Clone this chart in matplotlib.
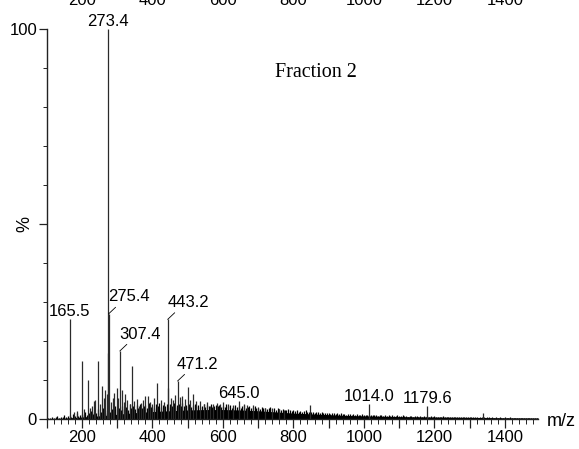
import numpy as np
import matplotlib.pyplot as plt
from matplotlib.ticker import MultipleLocator, FixedLocator, FuncFormatter
from matplotlib.transforms import blended_transform_factory

plt.rcParams['font.family'] = ['Liberation Sans', 'DejaVu Sans']

# distinct peaks: m/z and relative intensity (%)
peak_mz = [165.5, 177, 185, 199, 207, 216, 223, 229, 234, 238, 245, 252, 258, 262,
           266, 270, 273.4, 274.4, 275.4, 281, 288, 291, 299, 303, 307.4, 314, 318,
           323, 329, 336, 341, 349, 355, 361, 368, 373, 380, 386, 393, 400, 405,
           414, 425, 433, 443.2, 444.2, 452, 457, 463, 471.2, 478, 484, 492, 501,
           508, 516, 523, 536, 545, 555, 562, 572, 583, 593, 601, 615, 628, 645.0,
           660, 668, 684, 700, 720, 740, 760, 773, 847, 1014.0, 1179.6, 1339]
peak_int = [25.8, 2.0, 2.2, 15.0, 2.6, 10.0, 3.0, 3.4, 4.8, 5.0, 15.0, 4.0, 8.6, 5.5,
            7.4, 6.5, 100.0, 17.0, 27.0, 4.5, 5.5, 6.8, 8.0, 5.5, 17.5, 7.5, 4.5,
            6.4, 5.0, 4.0, 13.6, 4.6, 5.2, 3.4, 4.2, 5.0, 6.0, 6.0, 4.5, 4.0, 5.4,
            9.3, 5.0, 4.5, 25.6, 8.0, 5.5, 5.0, 6.2, 9.8, 5.8, 6.0, 5.2, 8.2,
            5.0, 6.4, 4.6, 4.8, 4.0, 4.4, 3.5, 4.0, 4.2, 3.8, 4.5, 4.0, 3.6, 4.7,
            3.8, 3.6, 3.6, 3.2, 3.0, 2.9, 2.6, 2.3, 3.7, 3.8, 3.4, 1.7]

label_mz = [165.5, 273.4, 275.4, 307.4, 443.2, 471.2, 645.0, 1014.0, 1179.6]
label_txt = ['165.5', '273.4', '275.4', '307.4', '443.2', '471.2', '645.0', '1014.0', '1179.6']
leader_mz = [275.4, 307.4, 443.2, 471.2]

# unresolved hump under the spectrum
floor_mz = [100, 150, 200, 250, 300, 350, 400, 450, 500, 550, 600, 650, 700, 750,
            800, 850, 900, 950, 1000, 1100, 1200, 1300, 1400, 1495]
floor_int = [0.2, 0.3, 0.6, 0.9, 1.3, 1.7, 2.0, 2.2, 2.4, 2.5, 2.5, 2.4, 2.2, 1.9,
             1.6, 1.4, 1.2, 1.0, 0.9, 0.7, 0.6, 0.5, 0.4, 0.35]

# small noise peaks, one every 5 m/z from 100
grass_int = [
    0.3, 0.4, 0.3, 0.6, 0.4, 0.5, 0.9, 0.4, 0.7, 0.5, 1.2, 0.6, 0.8, 1.0, 0.7, 1.3, 0.8, 1.6, 0.9, 1.1,
    1.4, 1.0, 1.8, 1.2, 1.6, 2.2, 1.3, 1.9, 1.5, 2.6, 1.7, 2.0, 2.9, 1.6, 2.4, 3.1, 2.0, 2.7, 2.2, 3.3,
    2.6, 3.0, 2.3, 3.5, 2.7, 3.2, 2.5, 3.8, 2.9, 3.4, 2.6, 3.6, 3.0, 3.9, 2.8, 3.3, 3.7, 3.0, 4.1, 3.2,
    3.5, 3.0, 3.9, 3.3, 4.2, 3.1, 3.7, 3.4, 4.0, 3.2, 3.8, 3.5, 4.3, 3.1, 3.6, 3.9, 3.3, 4.1, 3.5, 3.7,
    3.4, 3.9, 3.2, 3.6, 4.0, 3.3, 3.7, 3.1, 3.5, 3.8, 3.2, 3.6, 3.4, 3.9, 3.1, 3.5, 3.7, 3.3, 3.6, 3.2,
    3.5, 3.1, 3.8, 3.3, 3.6, 3.0, 3.4, 3.7, 3.2, 3.5, 3.0, 3.3, 3.6, 2.9, 3.2, 3.4, 2.8, 3.1, 3.3, 2.9,
    3.0, 2.7, 3.2, 2.8, 3.0, 2.6, 2.9, 3.1, 2.6, 2.8, 2.5, 2.9, 2.6, 2.4, 2.7, 2.5, 2.3, 2.6, 2.4, 2.2,
    2.4, 2.1, 2.3, 2.0, 2.2, 1.9, 2.1, 2.3, 1.9, 2.0, 1.8, 2.0, 1.7, 1.9, 1.8, 1.6, 1.8, 1.7, 1.5, 1.7,
    1.6, 1.4, 1.6, 1.5, 1.3, 1.5, 1.4, 1.6, 1.3, 1.4, 1.2, 1.4, 1.3, 1.2, 1.4, 1.1, 1.3, 1.2, 1.1, 1.3,
    1.2, 1.0, 1.2, 1.1, 1.0, 1.2, 1.0, 1.1, 0.9, 1.1, 1.0, 0.9, 1.1, 0.9, 1.0, 0.8, 1.0, 0.9, 0.8, 1.0,
    0.9, 0.8, 1.0, 0.8, 0.9, 0.7, 0.9, 0.8, 0.7, 0.9, 0.8, 0.7, 0.8, 0.7, 0.9, 0.7, 0.8, 0.6, 0.8, 0.7,
    0.8, 0.6, 0.7, 0.7, 0.6, 0.8, 0.6, 0.7, 0.6, 0.7, 0.5, 0.7, 0.6, 0.5, 0.7, 0.6, 0.5, 0.6, 0.5, 0.6,
    0.6, 0.5, 0.6, 0.5, 0.6, 0.4, 0.6, 0.5, 0.5, 0.4, 0.6, 0.5, 0.4, 0.5, 0.4, 0.5, 0.4, 0.5, 0.4, 0.4,
    0.5, 0.4, 0.4, 0.5, 0.4, 0.4, 0.3, 0.4, 0.4, 0.3, 0.4, 0.3, 0.4, 0.3, 0.3, 0.4, 0.3, 0.3, 0.3, 0.3,
]
grass_mz = [100 + 5 * i for i in range(len(grass_int))]

xtick_labels = [200, 400, 600, 800, 1000, 1200, 1400]

fig = plt.figure(figsize=(5.79, 4.49), dpi=100)
ax = fig.add_axes([0.0807, 0.0661, 0.849, 0.8693])

ax.fill_between(floor_mz, 0, floor_int, color='black', lw=0)
ax.vlines(grass_mz, 0, grass_int, color='black', lw=0.9)
ax.vlines(peak_mz, 0, peak_int, color='#2a2a2a', lw=0.9)

ax.set_xlim(100, 1495)
ax.set_ylim(0, 100)

for s in ['top', 'right']:
    ax.spines[s].set_visible(False)
for s in ['left', 'bottom']:
    ax.spines[s].set_color('#222222')
    ax.spines[s].set_linewidth(1.0)

ax.xaxis.set_major_locator(MultipleLocator(100))
ax.xaxis.set_minor_locator(MultipleLocator(20))
ax.xaxis.set_major_formatter(FuncFormatter(lambda v, p: str(int(v)) if int(v) in xtick_labels else ''))
ax.yaxis.set_major_locator(FixedLocator([0, 50, 100]))
ax.yaxis.set_minor_locator(MultipleLocator(10))
ax.yaxis.set_major_formatter(FuncFormatter(lambda v, p: '' if v == 50 else str(int(v))))

ax.tick_params(axis='x', which='major', length=6.5, width=0.9, pad=1, labelsize=12, color='#222222')
ax.tick_params(axis='x', which='minor', length=3.5, width=0.7, color='#222222')
ax.tick_params(axis='y', which='major', length=6, width=0.9, pad=1, labelsize=12, color='#222222')
ax.tick_params(axis='y', which='minor', length=3, width=0.7, color='#222222')

# top copy of the m/z scale, cut off by the figure edge as in the original
trans = blended_transform_factory(ax.transData, fig.transFigure)
for v in xtick_labels:
    ax.text(v, 1 - 5 / 449, str(v), transform=trans, ha='center', va='baseline',
            fontsize=12, clip_on=False)

lookup = dict(zip(peak_mz, peak_int))
for mz, txt in zip(label_mz, label_txt):
    h = lookup[mz]
    if mz in leader_mz:
        ax.annotate(txt, xy=(mz, h), xytext=(-0.3, 6.8), textcoords='offset points',
                    ha='left', va='bottom', fontsize=12,
                    arrowprops=dict(arrowstyle='-', color='black', lw=0.6,
                                    shrinkA=0, shrinkB=0, relpos=(0.25, 0)))
    else:
        ax.annotate(txt, xy=(mz, h), xytext=(0, 0), textcoords='offset points',
                    ha='center', va='bottom', fontsize=12)

fig.text(25 / 579, 1 - 224 / 449, '%', rotation=90, ha='center', va='center', fontsize=13)
fig.text(547 / 579, 1 - 421.5 / 449, 'm/z', ha='left', va='center', fontsize=13)
fig.text(316 / 579, 1 - 72.5 / 449, 'Fraction 2', ha='center', va='center',
         fontsize=14.5, family='Liberation Serif')

fig.savefig('out.png', dpi=100)
